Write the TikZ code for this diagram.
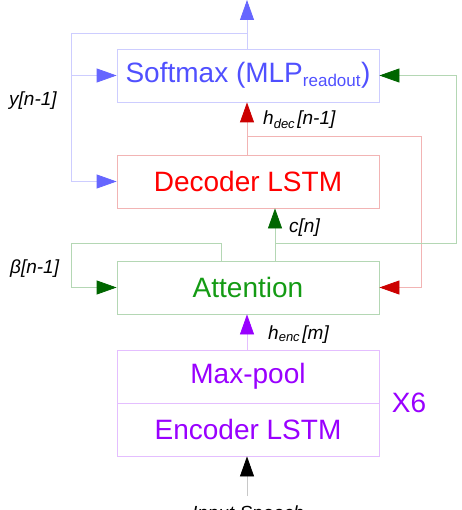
\documentclass[tikz,border=0pt]{standalone}
\usepackage{fontspec}
\setmainfont{Liberation Sans}
\usetikzlibrary{arrows.meta}
\definecolor{bluetxt}{RGB}{80,80,255}
\definecolor{blueln}{RGB}{205,205,255}
\definecolor{bluehd}{RGB}{102,102,255}
\definecolor{redtxt}{RGB}{255,0,0}
\definecolor{redln}{RGB}{242,180,180}
\definecolor{redhd}{RGB}{204,0,0}
\definecolor{greentxt}{RGB}{20,155,20}
\definecolor{greenln}{RGB}{180,215,180}
\definecolor{greenhd}{RGB}{0,102,0}
\definecolor{purptxt}{RGB}{153,0,255}
\definecolor{purpln}{RGB}{228,190,255}
\definecolor{grayln}{RGB}{200,200,200}
\begin{document}
\begin{tikzpicture}[x=1pt,y=-1pt,
  box/.style={draw,line width=0.8pt,minimum width=262pt,minimum height=53pt,inner sep=0pt,
    font=\fontsize{28}{30}\selectfont},
  lbl/.style={font=\fontsize{19}{22}\selectfont\itshape,inner sep=0pt},
  conn/.style={line width=0.8pt},
  tip/.style={-{Triangle[length=20pt,width=14pt,color=#1]}}
]
\useasboundingbox (0,0) rectangle (461,510);
% boxes
\node[box,draw=blueln,text=bluetxt] (softmax) at (248,75.5)
  {Softmax (MLP\textsubscript{\fontsize{17}{18}\selectfont readout})};
\node[box,draw=redln,text=redtxt] (decoder) at (248,181.5) {Decoder LSTM};
\node[box,draw=greenln,text=greentxt] (attention) at (248,287.5) {Attention};
\node[box,draw=purpln,text=purptxt] (maxpool) at (248,376.5) {Max-pool};
\node[box,draw=purpln,text=purptxt] (encoder) at (248,429.5) {Encoder LSTM};
\node[text=purptxt,font=\fontsize{28}{30}\selectfont,inner sep=0pt] (x6) at (409,403) {X6};
% coordinates
\coordinate (out) at (247,0);
\coordinate (ybr) at (247,33);
\coordinate (yin) at (71,75.5);
\coordinate (hbr) at (247,136);
\coordinate (cbr) at (275,243);
\coordinate (bbr) at (221,243);
\coordinate (inp) at (247,496);
% softmax output and y feedback
\draw[conn,blueln,tip=bluehd] (softmax.north -| out) -- (out);
\draw[conn,blueln,tip=bluehd] (ybr) -- (71,33) |- (decoder.west);
\draw[conn,blueln,tip=bluehd] (yin) -- (softmax.west);
% hdec
\draw[conn,redln,tip=redhd] (decoder.north -| hbr) -- (softmax.south -| hbr);
\draw[conn,redln,tip=redhd] (hbr) -- (421,136) |- (attention.east);
% c[n]
\draw[conn,greenln,tip=greenhd] (attention.north -| cbr) -- (decoder.south -| cbr);
\draw[conn,greenln,tip=greenhd] (cbr) -- (456,243) |- (softmax.east);
% beta
\draw[conn,greenln,tip=greenhd] (attention.north -| bbr) -- (bbr) -- (71,243) |- (attention.west);
% henc
\draw[conn,purpln,tip=purptxt] (maxpool.north -| hbr) -- (attention.south -| hbr);
% input
\draw[conn,grayln,tip=black] (inp) -- (encoder.south -| inp);
% labels
\node[lbl,anchor=base west] (ylab) at (9,106) {y[n-1]};
\node[lbl,anchor=base west] (blab) at (10,273) {β[n-1]};
\node[lbl,anchor=base west] (hdlab) at (263,125) {h\textsubscript{\fontsize{13}{14}\selectfont dec\,}[n-1]};
\node[lbl,anchor=base west] (clab) at (289,233) {c[n]};
\node[lbl,anchor=base west] (helab) at (268,339) {h\textsubscript{\fontsize{13}{14}\selectfont enc\,}[m]};
\node[lbl,anchor=base] (inlab) at (248,519) {Input Speech};
\end{tikzpicture}
\end{document}
